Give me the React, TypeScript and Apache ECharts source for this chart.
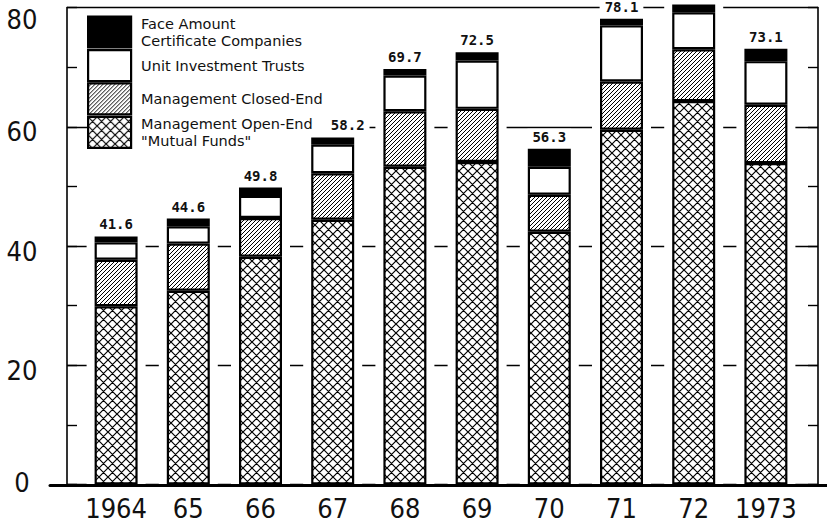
import React, { useEffect, useRef } from 'react';
import * as echarts from 'echarts';

// ---- data (billions of dollars) ----
const years = ['1964', '65', '66', '67', '68', '69', '70', '71', '72', '1973'];
const openEnd = [29.9, 32.5, 38.2, 44.4, 53.3, 54.1, 42.4, 59.5, 64.3, 53.9];
const closedEnd = [7.8, 7.9, 6.5, 7.8, 9.3, 8.9, 6.2, 8.1, 8.7, 9.8];
const unitTrusts = [2.9, 2.9, 3.7, 4.8, 6.0, 8.1, 4.7, 9.4, 6.2, 7.3];
const faceAmount = [1.0, 1.3, 1.4, 1.2, 1.1, 1.4, 3.0, 1.1, 1.3, 2.1];
const totals = [41.6, 44.6, 49.8, 58.2, 69.7, 72.5, 56.3, 78.1, 80.5, 73.1];
const totalLabels = ['41.6', '44.6', '49.8', '58.2', '69.7', '72.5', '56.3', '78.1', '', '73.1'];
const seriesNames = [
  'Face Amount\nCertificate Companies',
  'Unit Investment Trusts',
  'Management Closed-End',
  'Management Open-End\n"Mutual Funds"',
];

const svgUrl = (s: string) => 'data:image/svg+xml;charset=utf-8,' + encodeURIComponent(s);

const crossSvg =
  "<svg xmlns='http://www.w3.org/2000/svg' width='9' height='9'>" +
  "<rect width='9' height='9' fill='white'/>" +
  "<path d='M0 0L9 9M9 0L0 9M8 -1L10 1M-1 8L1 10M-1 1L1 -1M8 10L10 8' stroke='black' stroke-width='1.2' fill='none'/>" +
  '</svg>';
const hatchSvg =
  "<svg xmlns='http://www.w3.org/2000/svg' width='4' height='4'>" +
  "<rect width='4' height='4' fill='white'/>" +
  "<path d='M0 4L4 0M-1 1L1 -1M3 5L5 3' stroke='black' stroke-width='1' fill='none'/>" +
  '</svg>';

const crossPattern: any = { image: svgUrl(crossSvg), repetition: 'repeat', imageWidth: 9, imageHeight: 9 };
const hatchPattern: any = { image: svgUrl(hatchSvg), repetition: 'repeat', imageWidth: 4, imageHeight: 4 };

const narrow = "'DejaVu Sans Condensed', 'Liberation Sans Narrow', sans-serif";

export default function App() {
  const ref = useRef<HTMLDivElement>(null);
  useEffect(() => {
    if (!ref.current) return;
    const chart = echarts.init(ref.current, undefined, { renderer: 'svg' });
    const barBorder = { borderColor: '#000', borderWidth: 2.2 };
    const faceData = faceAmount.map((v, i) =>
      i === 3 ? { value: v, label: { offset: [15, 0] } } : v
    );
    const option: any = {
      animation: false,
      backgroundColor: '#fff',
      grid: [
        { left: 67, right: 9, top: 7.5, bottom: 41.5 },
        { left: 80, right: 25, top: 7.5, bottom: 41.5 },
        { left: 50, right: 0, top: 7.5, bottom: 40.5 },
      ],
      graphic: [
        {
          type: 'rect',
          left: 87,
          top: 15,
          z: 1,
          silent: true,
          shape: { width: 244, height: 132 },
          style: { fill: '#fff' },
        },
      ],
      xAxis: [
        { type: 'value', gridIndex: 0, show: false },
        {
          type: 'category',
          gridIndex: 1,
          data: years,
          axisLine: { show: false },
          axisTick: { show: false },
          axisLabel: { interval: 0, fontFamily: narrow, fontSize: 27, color: '#111', margin: 10 },
        },
        { type: 'category', gridIndex: 1, data: years, show: false },
        {
          type: 'value',
          gridIndex: 2,
          z: 10,
          axisLine: { show: true, onZero: false, lineStyle: { color: '#000', width: 3 } },
          axisTick: { show: false },
          axisLabel: { show: false },
          splitLine: { show: false },
        },
      ],
      yAxis: [
        {
          type: 'value',
          gridIndex: 0,
          min: 0,
          max: 80,
          interval: 20,
          axisLine: { show: true, lineStyle: { color: '#000', width: 1.6 } },
          axisTick: { show: true, inside: true, length: 10, lineStyle: { color: '#000', width: 1.4 } },
          minorTick: { show: true, splitNumber: 2, length: 10, lineStyle: { color: '#000', width: 1.4 } },
          splitLine: { show: true, lineStyle: { color: '#000', width: 1.4 } },
          axisLabel: {
            fontFamily: narrow,
            fontSize: 27,
            color: '#111',
            align: 'center',
            margin: 45,
            formatter: (v: number) => (v === 80 ? '{t|80}' : v === 0 ? '{z|0}' : '{n|' + v + '}'),
            rich: {
              t: { fontFamily: narrow, fontSize: 27, color: '#111', padding: [24, 0, 0, 0] },
              n: { fontFamily: narrow, fontSize: 27, color: '#111', padding: [10, 0, 0, 0] },
              z: { fontFamily: narrow, fontSize: 27, color: '#111', padding: [0, 0, 4, 0] },
            },
          },
        },
        {
          type: 'value',
          gridIndex: 0,
          position: 'right',
          min: 0,
          max: 80,
          interval: 20,
          axisLine: { show: true, lineStyle: { color: '#000', width: 1.6 } },
          axisTick: { show: true, inside: true, length: 10, lineStyle: { color: '#000', width: 1.4 } },
          minorTick: { show: true, splitNumber: 2, length: 10, lineStyle: { color: '#000', width: 1.4 } },
          splitLine: { show: false },
          axisLabel: { show: false },
        },
        { type: 'value', gridIndex: 1, min: 0, max: 80, show: false },
        { type: 'value', gridIndex: 2, min: 0, max: 80, show: false },
      ],
      legend: {
        left: 87,
        top: 15,
        orient: 'vertical',
        padding: 0,
        itemGap: 0,
        itemWidth: 43,
        itemHeight: 31,
        icon: 'rect',
        selectedMode: false,
        data: seriesNames,
        itemStyle: { borderColor: '#000', borderWidth: 2.2 },
        textStyle: {
          fontFamily: "'DejaVu Sans', sans-serif",
          fontSize: 14.5,
          lineHeight: 17,
          color: '#111',
          padding: [0, 0, 0, 5],
        },
      },
      series: [
        {
          name: 'gapmask',
          type: 'bar',
          xAxisIndex: 2,
          yAxisIndex: 2,
          data: totals,
          barWidth: 59,
          clip: false,
          z: 1,
          silent: true,
          itemStyle: { color: '#fff' },
        },
        {
          name: seriesNames[3],
          type: 'bar',
          stack: 'total',
          xAxisIndex: 1,
          yAxisIndex: 2,
          barWidth: 43,
          data: openEnd,
          itemStyle: { color: crossPattern, ...barBorder },
        },
        {
          name: seriesNames[2],
          type: 'bar',
          stack: 'total',
          xAxisIndex: 1,
          yAxisIndex: 2,
          barWidth: 43,
          data: closedEnd,
          itemStyle: { color: hatchPattern, ...barBorder },
        },
        {
          name: seriesNames[1],
          type: 'bar',
          stack: 'total',
          xAxisIndex: 1,
          yAxisIndex: 2,
          barWidth: 43,
          data: unitTrusts,
          itemStyle: { color: '#fff', ...barBorder },
        },
        {
          name: seriesNames[0],
          type: 'bar',
          stack: 'total',
          xAxisIndex: 1,
          yAxisIndex: 2,
          barWidth: 43,
          clip: false,
          data: faceData,
          itemStyle: { color: '#000', ...barBorder },
          label: {
            show: true,
            position: 'top',
            distance: 5,
            formatter: (p: any) => totalLabels[p.dataIndex],
            fontFamily: "'DejaVu Sans Mono', monospace",
            fontWeight: 'bold',
            fontSize: 14,
            color: '#111',
            backgroundColor: '#fff',
            padding: [1, 5, 0, 5],
          },
        },
      ],
    };
    chart.setOption(option);
    return () => chart.dispose();
  }, []);
  return <div ref={ref} style={{ width: 827, height: 526, position: 'absolute', left: 0, top: 0 }} />;
}
